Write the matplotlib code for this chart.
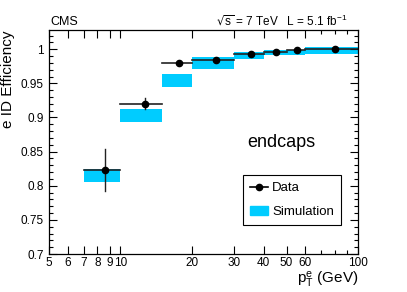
import matplotlib.pyplot as plt
from matplotlib.patches import Patch
from matplotlib.lines import Line2D
from matplotlib.ticker import FixedLocator, FixedFormatter, MultipleLocator

plt.rcParams['font.family'] = ['Liberation Sans', 'DejaVu Sans']

# bins in pT (GeV)
bin_lo = [7, 10, 15, 20, 30, 40, 50, 60]
bin_hi = [10, 15, 20, 30, 40, 50, 60, 100]
# data points
data_x = [8.6, 12.7, 17.6, 25.2, 35.4, 45.2, 55.4, 80.0]
data_y = [0.823, 0.920, 0.980, 0.984, 0.9925, 0.9955, 0.999, 1.000]
data_err = [0.031, 0.008, 0.002, 0.002, 0.0015, 0.0015, 0.0015, 0.0015]
# simulation band
sim_y = [0.8145, 0.9035, 0.954, 0.980, 0.991, 0.995, 0.9955, 0.998]
sim_err = [0.0095, 0.0095, 0.010, 0.009, 0.005, 0.004, 0.004, 0.005]

xtick_vals = [5, 6, 7, 8, 9, 10, 20, 30, 40, 50, 60, 100]
xtick_labels = ["5", "6", "7", "8", "9", "10", "20", "30", "40", "50", "60", "100"]

cyan = "#00CCFF"

fig = plt.figure(figsize=(4.07, 2.92), dpi=100)
ax = fig.add_axes([0.120, 0.130, 0.760, 0.767])

# simulation boxes
for lo, hi, y, e in zip(bin_lo, bin_hi, sim_y, sim_err):
    ax.fill_between([lo, hi], y - e, y + e, color=cyan, lw=0)

# data: horizontal bin-width bars + vertical errors
for lo, hi, x, y, e in zip(bin_lo, bin_hi, data_x, data_y, data_err):
    ax.plot([lo, hi], [y, y], color="#222222", lw=1.2)
    ax.plot([x, x], [y - e, y + e], color="#222222", lw=1.0)
ax.plot(data_x, data_y, "o", color="black", ms=4.5)

ax.set_xscale("log")
ax.set_xlim(5, 100)
ax.set_ylim(0.7, 1.028)

ax.xaxis.set_major_locator(FixedLocator(xtick_vals))
ax.xaxis.set_major_formatter(FixedFormatter(xtick_labels))
ax.xaxis.set_minor_locator(FixedLocator([70, 80, 90]))
ax.yaxis.set_major_locator(MultipleLocator(0.05))
ax.yaxis.set_minor_locator(MultipleLocator(0.01))
ax.set_yticks([0.7, 0.75, 0.8, 0.85, 0.9, 0.95, 1.0])
ax.set_yticklabels(["0.7", "0.75", "0.8", "0.85", "0.9", "0.95", "1"])

ax.tick_params(which="both", direction="in", top=True, right=True, labelsize=8.5)
ax.tick_params(which="major", length=6, width=0.8)
ax.tick_params(which="minor", length=3, width=0.8)
ax.tick_params(axis="x", pad=2)
for s in ax.spines.values():
    s.set_linewidth(0.9)

ax.set_ylabel("e ID Efficiency", fontsize=11, loc="top")
ax.set_xlabel(r"$\mathregular{p_T^e}$ (GeV)", fontsize=11, loc="right", labelpad=1)

fig.text(0.123, 0.915, "CMS", fontsize=9)
fig.text(0.853, 0.915, r"$\mathregular{\sqrt{s}}$ = 7 TeV   L = 5.1 fb$^{\mathregular{-1}}$",
         fontsize=8.5, ha="right")

ax.text(0.641, 0.478, "endcaps", transform=ax.transAxes, fontsize=13,
        va="baseline")

handles = [Line2D([0], [0], color="black", marker="o", ms=4.5, lw=1.2),
           Patch(color=cyan)]
leg = ax.legend(handles, ["Data", "Simulation"], loc="lower left",
                bbox_to_anchor=(0.628, 0.13), fontsize=9.5, fancybox=False,
                framealpha=1, edgecolor="black", handlelength=1.4,
                handletextpad=0.3, borderpad=0.5, labelspacing=0.9,
                borderaxespad=0)
leg.get_frame().set_linewidth(0.8)

fig.savefig("out.png", dpi=100)
